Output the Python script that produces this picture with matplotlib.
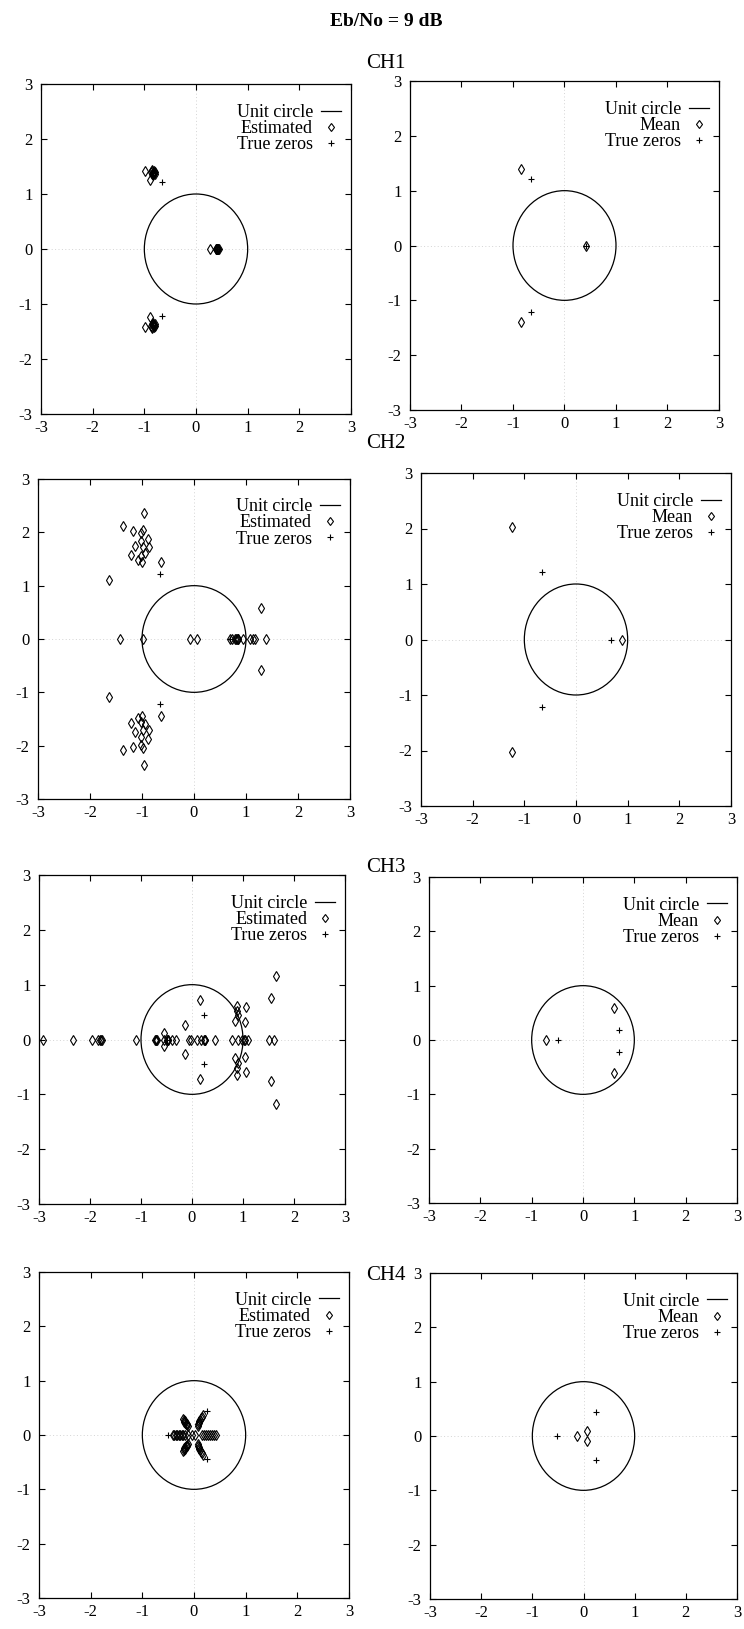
import matplotlib
matplotlib.use("Agg")
import matplotlib.pyplot as plt
from matplotlib.patches import Circle
from matplotlib.lines import Line2D

plt.rcParams['font.family'] = ['Liberation Serif', 'DejaVu Serif']

# ---------------- data ----------------
SUPTITLE = "Eb/No = 9 dB"
CHANNELS = ["CH1", "CH2", "CH3", "CH4"]
TICKS = [-3, -2, -1, 0, 1, 2, 3]
UNIT_RADIUS = 1.0

# CH1
ch1_est_re = [-0.98, -0.90, -0.87, -0.86, -0.85, -0.84, -0.83, -0.82, -0.81, -0.80, -0.79, -0.84, -0.86,
              -0.98, -0.90, -0.87, -0.86, -0.85, -0.84, -0.83, -0.82, -0.81, -0.80, -0.79, -0.84, -0.86,
              0.27, 0.38, 0.39, 0.40, 0.41, 0.42, 0.43, 0.44, 0.41]
ch1_est_im = [1.42, 1.25, 1.40, 1.37, 1.43, 1.39, 1.36, 1.41, 1.38, 1.40, 1.37, 1.34, 1.41,
              -1.42, -1.24, -1.40, -1.37, -1.43, -1.39, -1.36, -1.41, -1.38, -1.40, -1.37, -1.34, -1.41,
              0.0, 0.0, 0.0, 0.0, 0.0, 0.0, 0.0, 0.0, 0.0]
ch1_mean_re = [-0.84, -0.84, 0.41]
ch1_mean_im = [1.39, -1.39, 0.0]
ch1_true_re = [-0.65, -0.65, 0.41]
ch1_true_im = [1.22, -1.22, 0.0]

# CH2
ch2_est_re = [-0.97, -1.37, -1.18, -0.98, -1.02, -0.89, -1.02, -1.14, -0.87, -0.98, -1.22, -0.94, -1.02, -1.08, -1.00, -0.64, -1.64,
              -0.97, -1.37, -1.18, -0.98, -1.02, -0.89, -1.02, -1.14, -0.87, -0.98, -1.22, -0.94, -1.02, -1.08, -1.00, -0.64, -1.64,
              -1.43, -0.99, -0.08, 0.05, 0.695, 0.74, 0.78, 0.80, 0.82, 0.84, 0.85, 0.95, 1.07, 1.13, 1.17, 1.39,
              1.28, 1.28]
ch2_est_im = [2.36, 2.11, 2.03, 2.05, 1.99, 1.88, 1.84, 1.75, 1.72, 1.72, 1.58, 1.61, 1.56, 1.49, 1.44, 1.44, 1.10,
              -2.36, -2.09, -2.02, -2.04, -1.98, -1.87, -1.83, -1.74, -1.71, -1.71, -1.58, -1.60, -1.55, -1.49, -1.44, -1.44, -1.09,
              0.0, 0.0, 0.0, 0.0, 0.0, 0.0, 0.0, 0.0, 0.0, 0.0, 0.0, 0.0, 0.0, 0.0, 0.0, 0.0,
              0.59, -0.59]
ch2_mean_re = [-1.24, -1.24, 0.89]
ch2_mean_im = [2.02, -2.02, 0.0]
ch2_true_re = [-0.66, -0.66, 0.685]
ch2_true_im = [1.22, -1.22, 0.0]

# CH3
ch3_est_re = [-2.93, -2.33, -1.97, -1.84, -1.80, -1.78, -1.76, -1.09, -0.72, -0.71, -0.70, -0.69, -0.55, -0.49,
              -0.48, -0.47, -0.40, -0.31, -0.06, -0.01, 0.09, 0.17, 0.24, 0.25, 0.26, 0.45, 0.79, 0.90, 0.99,
              1.01, 1.03, 1.10, 1.51, 1.61,
              0.15, -0.14, -0.55, 0.88, 0.88, 0.90, 0.84, 1.05, 1.04, 1.55, 1.64,
              0.15, -0.14, -0.55, 0.88, 0.88, 0.90, 0.84, 1.05, 1.04, 1.55, 1.64]
ch3_est_im = [0.0] * 34 + \
             [0.72, 0.27, 0.12, 0.62, 0.52, 0.44, 0.33, 0.60, 0.32, 0.76, 1.15,
              -0.72, -0.26, -0.12, -0.64, -0.52, -0.42, -0.33, -0.60, -0.32, -0.76, -1.17]
ch3_mean_re = [-0.72, 0.60, 0.60]
ch3_mean_im = [0.0, 0.59, -0.60]
ch3_true_left_re = [0.24, 0.24, -0.50]
ch3_true_left_im = [0.44, -0.44, 0.0]
ch3_true_re = [-0.49, 0.71, 0.71]
ch3_true_im = [0.0, 0.18, -0.22]

# CH4
ch4_est_re = [-0.41, -0.38, -0.35, -0.33, -0.30, -0.27, -0.24, -0.21, -0.17, -0.11, -0.045, 0.02,
              0.15, 0.19, 0.23, 0.27, 0.31, 0.35, 0.39, 0.43,
              -0.21, -0.20, -0.19, -0.18, -0.17, -0.15, -0.14, -0.13, -0.11,
              0.07, 0.08, 0.09, 0.10, 0.11, 0.13, 0.15, 0.17,
              -0.21, -0.20, -0.19, -0.18, -0.17, -0.15, -0.14, -0.13, -0.11,
              0.07, 0.08, 0.09, 0.10, 0.11, 0.13, 0.15, 0.17]
ch4_est_im = [0.0] * 20 + \
             [0.30, 0.27, 0.24, 0.25, 0.22, 0.20, 0.21, 0.18, 0.16,
              0.17, 0.20, 0.23, 0.26, 0.28, 0.31, 0.34, 0.37,
              -0.30, -0.27, -0.24, -0.25, -0.22, -0.20, -0.21, -0.18, -0.16,
              -0.17, -0.20, -0.23, -0.26, -0.28, -0.31, -0.34, -0.37]
ch4_mean_re = [-0.13, 0.065, 0.065]
ch4_mean_im = [0.0, 0.09, -0.09]
ch4_true_re = [-0.51, 0.245, 0.245]
ch4_true_im = [0.0, 0.435, -0.435]

LEFT_DATA = [(ch1_est_re, ch1_est_im, ch1_true_re, ch1_true_im),
             (ch2_est_re, ch2_est_im, ch2_true_re, ch2_true_im),
             (ch3_est_re, ch3_est_im, ch3_true_left_re, ch3_true_left_im),
             (ch4_est_re, ch4_est_im, ch4_true_re, ch4_true_im)]
RIGHT_DATA = [(ch1_mean_re, ch1_mean_im, ch1_true_re, ch1_true_im),
              (ch2_mean_re, ch2_mean_im, ch2_true_re, ch2_true_im),
              (ch3_mean_re, ch3_mean_im, ch3_true_re, ch3_true_im),
              (ch4_mean_re, ch4_mean_im, ch4_true_re, ch4_true_im)]

# ---------------- layout (pixel boxes: x0, y0, x1, y1) ----------------
W, H = 744, 1629
LEFT_BOXES = [(41, 84, 351, 414), (38, 479, 350, 799), (39, 875, 345, 1204), (39, 1272, 349, 1598)]
RIGHT_BOXES = [(410, 81, 719, 410), (421, 473, 731, 806), (429, 877, 737, 1203), (430, 1273, 737, 1599)]
CH_LABEL_Y = [63, 443, 868, 1276]

fig = plt.figure(figsize=(W / 100, H / 100), dpi=100)
fig.patch.set_facecolor('white')


def make_axes(box):
    x0, y0, x1, y1 = box
    return fig.add_axes([x0 / W, 1 - y1 / H, (x1 - x0) / W, (y1 - y0) / H])


def draw_panel(ax, re, im, tre, tim, label):
    ax.axhline(0, color='#d4d4d4', lw=0.7, ls=(0, (1, 2.5)), zorder=0)
    ax.axvline(0, color='#d4d4d4', lw=0.7, ls=(0, (1, 2.5)), zorder=0)
    ax.add_patch(Circle((0, 0), UNIT_RADIUS, fill=False, ec='black', lw=0.9, zorder=2))
    ax.plot(re, im, ls='none', marker='d', ms=5, mfc='none', mec='black', mew=0.8, zorder=3)
    ax.plot(tre, tim, ls='none', marker='+', ms=5, mec='black', mew=0.8, zorder=4)
    ax.set_xlim(-3, 3)
    ax.set_ylim(-3, 3)
    ax.set_xticks(TICKS)
    ax.set_yticks(TICKS)
    ax.set_xticklabels([str(t) for t in TICKS])
    ax.set_yticklabels([str(t) for t in TICKS])
    ax.tick_params(direction='in', top=True, right=True, length=4.5, width=0.8,
                   labelsize=12, color='black')
    ax.tick_params(axis='x', pad=4)
    ax.tick_params(axis='y', pad=6)
    for sp in ax.spines.values():
        sp.set_linewidth(0.9)
    handles = [Line2D([], [], color='black', lw=0.9),
               Line2D([], [], ls='none', marker='d', ms=4.5, mfc='none', mec='black', mew=0.8),
               Line2D([], [], ls='none', marker='+', ms=4.5, mec='black', mew=0.8)]
    ax.legend(handles, ["Unit circle", label, "True zeros"], loc='upper right',
              bbox_to_anchor=(1 - 10 / 310, 1 - 20 / 330), borderaxespad=0, borderpad=0,
              frameon=False, markerfirst=False, fontsize=13, handlelength=1.1,
              handletextpad=0.45, labelspacing=-0.05)


for i in range(4):
    axl = make_axes(LEFT_BOXES[i])
    draw_panel(axl, *LEFT_DATA[i], "Estimated")
    axr = make_axes(RIGHT_BOXES[i])
    draw_panel(axr, *RIGHT_DATA[i], "Mean")
    fig.text(386 / W, 1 - CH_LABEL_Y[i] / H, CHANNELS[i], ha='center', va='center', fontsize=15)

fig.text(386 / W, 1 - 21 / H, SUPTITLE, ha='center', va='center', fontsize=14, fontweight='bold')

fig.savefig("out.png", dpi=100, facecolor='white')
